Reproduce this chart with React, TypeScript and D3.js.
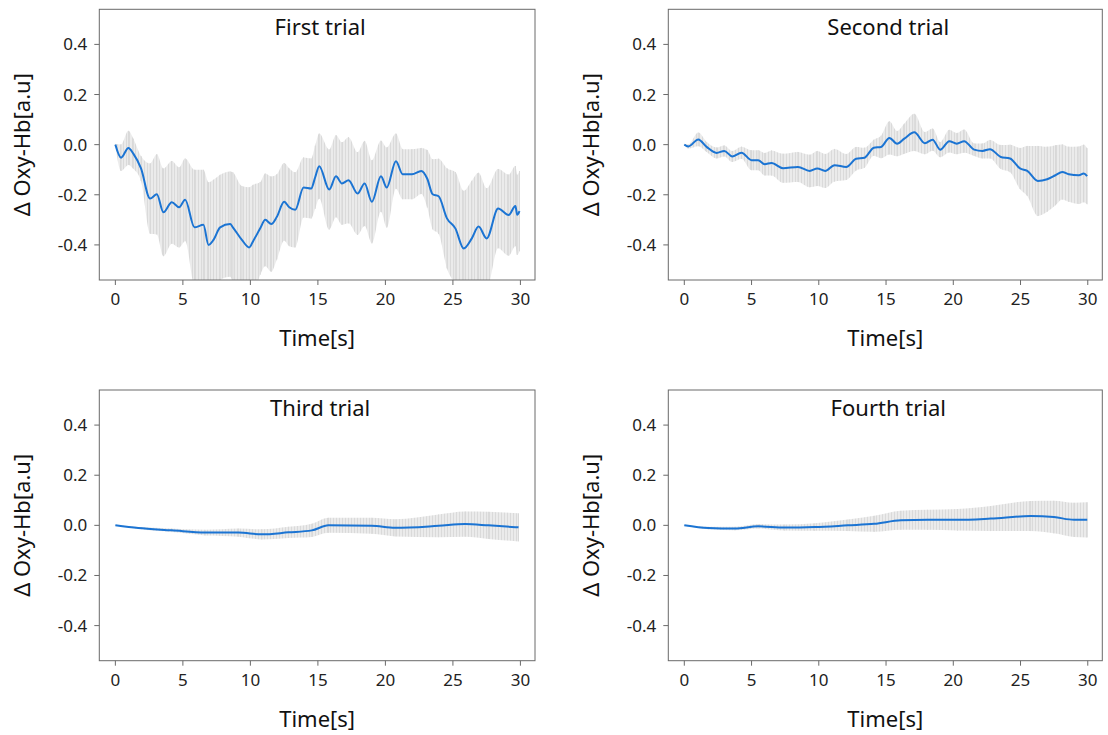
import React from "react";
import * as d3 from "d3";

// ---- Data ----
const trialTitles = ["First trial", "Second trial", "Third trial", "Fourth trial"];
const xTicks = [0, 5, 10, 15, 20, 25, 30];
const yTicks = [0.4, 0.2, 0.0, -0.2, -0.4];

const trial1Time = [0,0.42,0.97,1.33,1.9,2.57,3.07,3.56,4.18,4.72,5.17,5.86,6.52,6.9,7.27,7.76,8.5,8.7,9.37,9.91,10.2,10.73,11.1,11.55,11.96,12.5,12.88,13.32,13.94,14.5,14.8,15.1,15.84,16.34,16.78,17.27,17.94,18.46,19.0,19.67,20.1,20.78,21.28,21.97,22.66,23.1,23.5,23.94,24.56,25.18,25.8,26.4,26.9,27.5,28.35,29.13,29.63,29.76,29.93];
const trial1Mean = [0,-0.052,-0.013,-0.036,-0.095,-0.215,-0.198,-0.27,-0.23,-0.25,-0.22,-0.33,-0.32,-0.40,-0.38,-0.33,-0.317,-0.33,-0.38,-0.41,-0.385,-0.334,-0.30,-0.317,-0.288,-0.228,-0.25,-0.26,-0.171,-0.175,-0.13,-0.086,-0.179,-0.126,-0.155,-0.142,-0.195,-0.155,-0.228,-0.126,-0.171,-0.066,-0.118,-0.118,-0.105,-0.136,-0.198,-0.206,-0.294,-0.334,-0.414,-0.374,-0.327,-0.374,-0.255,-0.281,-0.245,-0.28,-0.265];
const trial1Sd = [0.003,0.053,0.068,0.06,0.05,0.14,0.16,0.175,0.165,0.16,0.165,0.23,0.22,0.25,0.24,0.21,0.21,0.22,0.215,0.24,0.225,0.185,0.185,0.19,0.17,0.155,0.155,0.15,0.12,0.12,0.126,0.13,0.16,0.164,0.165,0.172,0.165,0.17,0.166,0.142,0.16,0.11,0.1,0.1,0.092,0.115,0.14,0.15,0.2,0.225,0.23,0.23,0.215,0.2,0.158,0.162,0.16,0.16,0.16];

const trial2Time = [0,0.3,1.04,1.66,2.4,2.97,3.56,4.25,5.0,5.49,5.98,6.48,7.34,8.45,9.32,9.89,10.48,11.17,12.04,12.78,13.4,14.09,14.63,15.25,15.82,16.36,17.1,17.89,18.46,19.03,19.7,20.26,20.81,21.55,22.17,22.73,23.53,24.22,24.96,25.5,26.29,26.98,27.6,28.1,28.59,29.34,29.7,29.95];
const trial2Mean = [0,-0.007,0.021,-0.009,-0.033,-0.025,-0.047,-0.032,-0.062,-0.062,-0.078,-0.073,-0.094,-0.089,-0.105,-0.095,-0.105,-0.082,-0.089,-0.056,-0.052,-0.012,-0.009,0.027,0.004,0.024,0.049,0.006,0.02,-0.02,0.014,0.004,0.014,-0.02,-0.025,-0.018,-0.049,-0.055,-0.095,-0.105,-0.145,-0.138,-0.122,-0.109,-0.118,-0.122,-0.115,-0.126];
const trial2Sd = [0.002,0.008,0.027,0.02,0.022,0.022,0.022,0.024,0.04,0.04,0.045,0.05,0.058,0.06,0.065,0.07,0.068,0.065,0.052,0.047,0.04,0.032,0.045,0.066,0.05,0.06,0.074,0.044,0.044,0.03,0.045,0.042,0.046,0.025,0.03,0.037,0.048,0.055,0.082,0.1,0.14,0.13,0.12,0.11,0.11,0.115,0.115,0.112];

const trial3Time = [0,1.7,4.18,6.65,9.12,10.85,12.82,14.55,15.78,18.99,20.72,23.93,25.9,27.63,29.86];
const trial3Mean = [0,-0.011,-0.02,-0.029,-0.029,-0.036,-0.028,-0.02,0,-0.002,-0.01,-0.002,0.005,0,-0.008];
const trial3Sd = [0.001,0.004,0.007,0.011,0.016,0.02,0.022,0.026,0.03,0.032,0.034,0.045,0.05,0.054,0.056];

const trial4Time = [0,1.78,3.76,5.49,7.46,9.69,12.16,14.13,16.11,18.09,20.31,22.78,25.75,27.48,28.97,29.96];
const trial4Mean = [0,-0.011,-0.013,-0.004,-0.009,-0.007,0,0.006,0.02,0.022,0.022,0.027,0.037,0.033,0.022,0.022];
const trial4Sd = [0.001,0.005,0.007,0.009,0.012,0.015,0.023,0.032,0.038,0.04,0.043,0.05,0.06,0.065,0.068,0.07];

const trialTimes = [trial1Time, trial2Time, trial3Time, trial4Time];
const trialMeans = [trial1Mean, trial2Mean, trial3Mean, trial4Mean];
const trialSds = [trial1Sd, trial2Sd, trial3Sd, trial4Sd];

// ---- Layout ----
const W = 1108, H = 735;
const panelBoxes = [
  { x0: 99.3, x1: 535, y0: 9.3, y1: 280 },
  { x0: 668.3, x1: 1102.3, y0: 9.3, y1: 280 },
  { x0: 99.3, x1: 535, y0: 390, y1: 660.7 },
  { x0: 668.3, x1: 1102.3, y0: 390, y1: 660.7 },
];
const FONT = "'Noto Sans', 'DejaVu Sans', sans-serif";
const BLUE = "#1b74d3";
const FRAME = "#6a6a6a";

function Panel({ idx }: { idx: number }) {
  const b = panelBoxes[idx];
  const x = d3.scaleLinear().domain([-1.19, 31.08]).range([b.x0, b.x1]);
  const y = d3.scaleLinear().domain([-0.54, 0.54]).range([b.y1, b.y0]);
  const times = trialTimes[idx], means = trialMeans[idx], sds = trialSds[idx];
  const pts = times.map((t, i) => ({ t, m: means[i], s: sds[i] }));
  const line = d3.line<any>().x((d) => x(d.t)).y((d) => y(d.m)).curve(d3.curveMonotoneX);
  const area = d3.area<any>().x((d) => x(d.t)).y0((d) => y(d.m - d.s)).y1((d) => y(d.m + d.s)).curve(d3.curveMonotoneX);
  const clipId = `clip${idx}`;
  const cx = (b.x0 + b.x1) / 2;
  const cy = (b.y0 + b.y1) / 2;
  return (
    <g>
      <defs>
        <clipPath id={clipId}>
          <rect x={b.x0} y={b.y0} width={b.x1 - b.x0} height={b.y1 - b.y0} />
        </clipPath>
      </defs>
      <g clipPath={`url(#${clipId})`}>
        <path d={area(pts) || ""} fill="url(#stripes)" />
        {pts.map((d, i) => (
          <line key={i} x1={x(d.t)} x2={x(d.t)} y1={y(d.m - d.s)} y2={y(d.m + d.s)} stroke="#d8d8d8" strokeWidth={1} />
        ))}
        <path d={line(pts) || ""} fill="none" stroke={BLUE} strokeWidth={2} strokeLinejoin="round" />
      </g>
      <rect x={b.x0} y={b.y0} width={b.x1 - b.x0} height={b.y1 - b.y0} fill="none" stroke={FRAME} strokeWidth={1} />
      {xTicks.map((t) => (
        <g key={t}>
          <line x1={x(t)} x2={x(t)} y1={b.y1} y2={b.y1 + 5} stroke={FRAME} />
          <text x={x(t)} y={b.y1 + 25} textAnchor="middle" fontSize={17} fontFamily={FONT} fill="#222">{t}</text>
        </g>
      ))}
      {yTicks.map((v) => (
        <g key={v}>
          <line x1={b.x0 - 5} x2={b.x0} y1={y(v)} y2={y(v)} stroke={FRAME} />
          <text x={b.x0 - 12} y={y(v) + 6} textAnchor="end" fontSize={17} fontFamily={FONT} fill="#222">{v.toFixed(1)}</text>
        </g>
      ))}
      <text x={cx + 3} y={b.y0 + 26} textAnchor="middle" fontSize={22} fontFamily={FONT} fill="#111">{trialTitles[idx]}</text>
      <text x={cx} y={b.y1 + 66} textAnchor="middle" fontSize={22} fontFamily={FONT} fill="#111">Time[s]</text>
      <text transform={`translate(${b.x0 - 69},${cy}) rotate(-90)`} textAnchor="middle" fontSize={22} fontFamily={FONT} fill="#111">Δ Oxy-Hb[a.u]</text>
    </g>
  );
}

export default function App() {
  return (
    <svg width={W} height={H} style={{ position: "absolute", left: 0, top: 0, background: "#fff" }}>
      <defs>
        <pattern id="stripes" width={3} height={10} patternUnits="userSpaceOnUse">
          <rect width={3} height={10} fill="#ebebeb" />
          <rect width={1} height={10} fill="#dadada" />
        </pattern>
      </defs>
      <rect width={W} height={H} fill="#fff" />
      {[0, 1, 2, 3].map((i) => <Panel key={i} idx={i} />)}
    </svg>
  );
}
